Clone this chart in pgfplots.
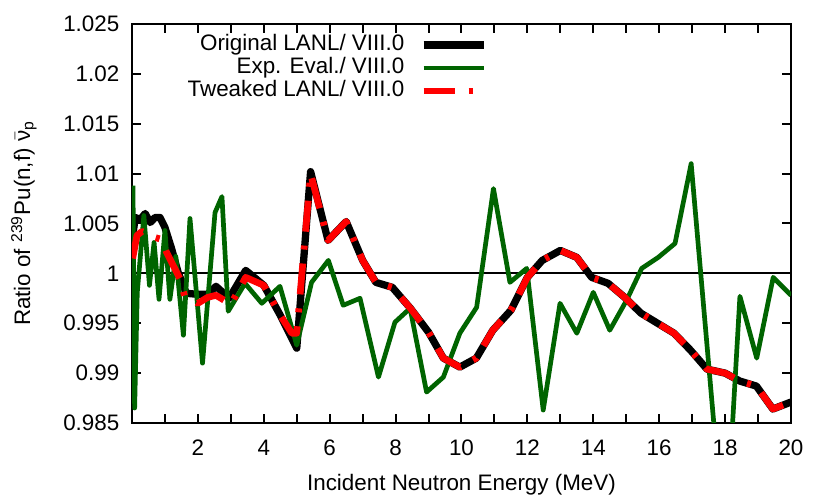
\documentclass[border=0pt]{standalone}
\usepackage{fontspec}
\setmainfont{Liberation Sans}
\usepackage{amsmath}
\usepackage{pgfplots}
\pgfplotsset{compat=1.18}
\definecolor{dkgreen}{RGB}{0,100,0}

\begin{document}
\begin{tikzpicture}
\useasboundingbox (-66pt,-37.5pt) rectangle (349pt,211.5pt);
\begin{axis}[
    scale only axis,
    width=329.5pt, height=199.5pt,
    xmin=0, xmax=20,
    ymin=0.985, ymax=1.025,
    font=\fontsize{11.2}{13}\selectfont,
    axis line style={line width=1pt},
    every tick/.style={black, line width=1pt},
    tick pos=both, tick align=inside,
    major tick length=4.5pt, minor tick length=4.5pt,
    xtick={2,4,...,20},
    minor xtick={1,3,...,19},
    ytick={0.985,0.99,0.995,1,1.005,1.01,1.015,1.02,1.025},
    /pgf/number format/assume math mode=true,
    yticklabel style={/pgf/number format/fixed, /pgf/number format/precision=3, xshift=-2.8pt},
    xticklabel style={yshift=-4.8pt},
    xlabel={Incident Neutron Energy (MeV)},
    ylabel={Ratio of \textsuperscript{239}Pu(n,f) $\bar{\text{ν}}_{\text{p}}$},
    xlabel style={at={(axis description cs:0.5,-0.170)}, anchor=base},
    ylabel style={at={(axis description cs:-0.164,0.5)}, anchor=center},
    legend plot pos=right,
    legend cell align=right,
    legend style={draw=none, fill=none, at={(0.539,0.976)}, anchor=north east,
        inner sep=0pt, outer sep=0pt, column sep=7.8pt, row sep=0pt,
        nodes={inner sep=0pt, text height=8.5pt, text depth=3pt}},
    legend image code/.code={\draw[#1] (0pt,0pt) -- (30pt,0pt);},
    every axis plot/.append style={line join=round, line cap=butt},
]
% reference line at 1
\addplot[black, line width=1pt, forget plot] coordinates {(0,1) (20,1)};

% Original LANL / VIII.0
\addplot[black, line width=3.65pt] coordinates {
(0.0,1.0033) (0.1,1.0056) (0.25,1.0054) (0.4,1.0060) (0.55,1.0051)
(0.7,1.0056) (0.85,1.0056) (1.0,1.0046) (1.2,1.0025) (1.4,1.0001)
(1.65,0.9980) (2.0,0.9979) (2.3,0.9979) (2.55,0.9987) (2.95,0.9975)
(3.45,1.0003) (4.0,0.9988) (4.5,0.9958) (5.0,0.9925) (5.42,1.0102)
(5.95,1.0033) (6.5,1.0052) (7.0,1.0013) (7.4,0.9991) (7.9,0.9986)
(8.45,0.9965) (9.0,0.9941) (9.45,0.9915) (9.95,0.9906) (10.45,0.9915)
(10.95,0.9943) (11.5,0.9963) (12.0,0.9996) (12.45,1.0013) (13.0,1.0023)
(13.5,1.0016) (13.95,0.9996) (14.45,0.9990) (14.95,0.9976) (15.45,0.9960)
(15.95,0.9950) (16.45,0.9940) (16.95,0.9923) (17.45,0.9904) (18.0,0.9900)
(18.45,0.9892) (18.95,0.9887) (19.45,0.9864) (20.0,0.9871)
};

% Exp. Eval. / VIII.0
\addplot[dkgreen, line width=2.35pt] coordinates {
(0.03,1.0088) (0.08,0.9865) (0.16,0.9981) (0.36,1.0058) (0.53,0.9988)
(0.67,1.0031) (0.82,0.9974) (1.0,1.0043) (1.15,0.9974) (1.33,1.0017)
(1.56,0.9938) (1.76,1.0055) (2.14,0.9910) (2.52,1.0061) (2.73,1.0077)
(2.92,0.9962) (3.43,0.9990) (3.94,0.9970) (4.49,0.9987) (5.0,0.9928)
(5.45,0.9991) (5.96,1.0013) (6.41,0.9968) (6.92,0.9975) (7.48,0.9896)
(7.98,0.9951) (8.44,0.9965) (8.94,0.9881) (9.45,0.9896) (9.95,0.9940)
(10.46,0.9966) (10.97,1.0085) (11.47,0.9991) (11.98,1.0005) (12.48,0.9863)
(12.99,0.9970) (13.5,0.9940) (14.0,0.9981) (14.5,0.9943) (15.01,0.9973)
(15.47,1.0005) (15.97,1.0016) (16.48,1.0030) (16.97,1.0110) (18.0,0.9720)
(18.45,0.9977) (18.96,0.9915) (19.46,0.9996) (20.0,0.9978)
};

% Tweaked LANL / VIII.0
\addplot[red, line width=3.35pt, dash pattern=on 15.5pt off 7pt on 2pt off 7pt] coordinates {
(0.02,1.0015) (0.15,1.0038) (0.3,1.0042) (0.5,1.0040) (0.7,1.0036)
(0.9,1.0034) (1.05,1.0021) (1.25,1.0008) (1.45,0.9995) (1.6,0.9977)
(2.0,0.9970) (2.3,0.9976) (2.55,0.9978) (2.75,0.9974) (3.0,0.9969)
(3.45,0.9996) (4.0,0.9988) (4.5,0.9958) (4.85,0.9940) (5.0,0.9940)
(5.42,1.0100) (5.95,1.0033) (6.5,1.0052) (7.0,1.0013) (7.4,0.9991)
(7.9,0.9986) (8.45,0.9965) (9.0,0.9941) (9.45,0.9915) (9.95,0.9906)
(10.45,0.9915) (10.95,0.9943) (11.5,0.9963) (12.0,0.9996) (12.45,1.0013)
(13.0,1.0023) (13.5,1.0016) (13.95,0.9996) (14.45,0.9990) (14.95,0.9976)
(15.45,0.9960) (15.95,0.9950) (16.45,0.9940) (16.95,0.9923) (17.45,0.9904)
(18.0,0.9900) (18.45,0.9892) (18.95,0.9887) (19.45,0.9864) (20.0,0.9871)
};
\legend{Original LANL/ VIII.0, Exp. Eval./ VIII.0, Tweaked LANL/ VIII.0}
\end{axis}
\end{tikzpicture}
\end{document}
